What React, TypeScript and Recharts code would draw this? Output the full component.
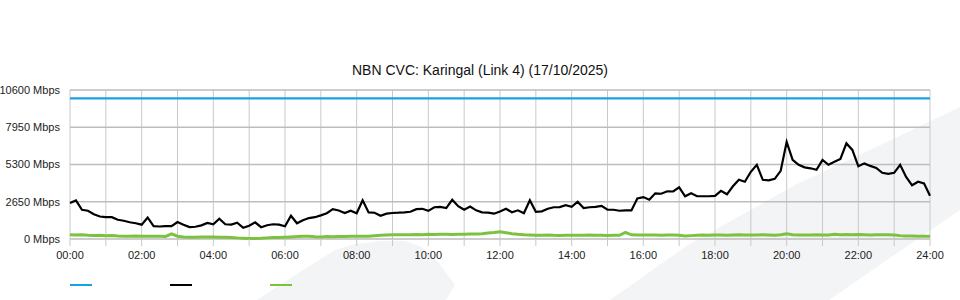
import React from 'react';
import { LineChart, Line, XAxis, YAxis, CartesianGrid, Legend } from 'recharts';

// 10-minute samples, 00:00 .. 24:00 (145 points)
const DOWNLOAD_MBPS: number[] = [
  2560, 2740, 2080, 2010, 1760, 1600, // 00
  1560, 1550, 1370, 1300, 1190, 1120, // 01
  1020, 1530, 910, 890, 910, 910, // 02
  1210, 1020, 850, 870, 970, 1140, // 03
  1050, 1440, 1050, 1020, 1160, 800, // 04
  940, 1180, 840, 980, 1050, 1020, // 05
  910, 1650, 1120, 1330, 1490, 1550, // 06
  1680, 1830, 2120, 2030, 1850, 2010, // 07
  1830, 2750, 1890, 1870, 1650, 1800, // 08
  1850, 1870, 1900, 1940, 2120, 2150, // 09
  2000, 2260, 2290, 2200, 2790, 2330, // 10
  2080, 2310, 2040, 1900, 1870, 1800, // 11
  1960, 2150, 1900, 2040, 1830, 2750, // 12
  1940, 1970, 2150, 2260, 2270, 2400, // 13
  2290, 2650, 2200, 2260, 2290, 2360, // 14
  2080, 2080, 2010, 2030, 2030, 2880, // 15
  2980, 2790, 3250, 3220, 3390, 3380, // 16
  3680, 3040, 3250, 3040, 3040, 3040, // 17
  3070, 3430, 3180, 3750, 4210, 4070, // 18
  4780, 5280, 4210, 4170, 4280, 4850, // 19
  6910, 5630, 5280, 5100, 5030, 4920, // 20
  5630, 5280, 5490, 5700, 6800, 6340, // 21
  5170, 5380, 5200, 5060, 4710, 4640, // 22
  4710, 5280, 4420, 3820, 4070, 3960, // 23
  3070, // 24
];

const UPLOAD_MBPS: number[] = [
  300, 280, 300, 270, 250, 260,
  230, 250, 220, 200, 200, 210,
  200, 200, 190, 200, 180, 360,
  200, 140, 120, 130, 140, 140,
  140, 130, 120, 110, 80, 60,
  40, 30, 50, 80, 100, 110,
  130, 150, 170, 200, 190, 160,
  150, 170, 160, 180, 170, 190,
  200, 190, 200, 230, 260, 280,
  300, 310, 300, 310, 320, 300,
  330, 320, 340, 330, 320, 340,
  330, 350, 360, 380, 420, 460,
  520, 450, 380, 330, 300, 290,
  270, 260, 280, 260, 250, 260,
  270, 260, 260, 280, 270, 260,
  250, 270, 260, 470, 300, 290,
  280, 290, 280, 270, 280, 290,
  270, 220, 240, 260, 280, 270,
  290, 280, 270, 290, 300, 280,
  290, 280, 300, 290, 270, 300,
  380, 300, 290, 280, 290, 300,
  290, 280, 330, 310, 320, 300,
  320, 310, 290, 300, 310, 300,
  290, 240, 210, 220, 200, 190,
  190,
];

const CAPACITY_MBPS = 10000;
const SLOTS_PER_HOUR = 6;
const HOUR_LABELS = ['00:00', '02:00', '04:00', '06:00', '08:00', '10:00', '12:00', '14:00', '16:00', '18:00', '20:00', '22:00', '24:00'];
const Y_TICKS = [0, 2650, 5300, 7950, 10600];
const TITLE = 'NBN CVC: Karingal (Link 4) (17/10/2025)';

const SERIES = [
  { key: 'capacity', color: '#1ba0e2', width: 2.2 },
  { key: 'download', color: '#000000', width: 2.2 },
  { key: 'upload', color: '#7cc23f', width: 3 },
];

const data = DOWNLOAD_MBPS.map((d, i) => ({
  slot: i,
  capacity: CAPACITY_MBPS,
  download: d,
  upload: UPLOAD_MBPS[i],
}));

const HOUR_TICKS = Array.from({ length: 25 }, (_, h) => h * SLOTS_PER_HOUR);

const FONT = '"Liberation Sans", Arial, sans-serif';

const LegendContent = () => (
  <div style={{ position: 'relative', width: 300, height: 20 }}>
    {SERIES.map((s, i) => (
      <span
        key={s.key}
        style={{
          position: 'absolute',
          left: i * 100,
          top: 15,
          width: 22,
          height: 2,
          background: s.color,
        }}
      />
    ))}
  </div>
);

const YTick = (props: any) => {
  const { x, y, payload } = props;
  return (
    <text x={x} y={y} dy="0.355em" textAnchor="end" fontSize={11} fill="#222" fontFamily={FONT}>
      {`${payload.value} Mbps`}
    </text>
  );
};

const XTick = (props: any) => {
  const { x, y, payload } = props;
  const v = payload.value as number;
  if (v % (SLOTS_PER_HOUR * 2) !== 0) return <g />;
  return (
    <text x={x} y={y} dy="0.71em" textAnchor="middle" fontSize={11} fill="#222" fontFamily={FONT}>
      {HOUR_LABELS[v / (SLOTS_PER_HOUR * 2)]}
    </text>
  );
};

export default function App() {
  return (
    <div style={{ position: 'absolute', left: 0, top: 0, width: 960, height: 300, background: '#fff', fontFamily: FONT }}>
      <svg width={960} height={300} style={{ position: 'absolute', left: 0, top: 0 }}>
        <polygon points="257,300 300,272 335,250 355,244 380,241 405,241 422,247 438,262 455,285 446,300" fill="#f3f4f6" />
        <polygon points="610,300 688,245 795,185 870,150 960,107 960,210 887,260 829,300" fill="#f3f4f6" />
      </svg>
      <div
        style={{
          position: 'absolute',
          left: 0,
          top: 62,
          width: 960,
          textAlign: 'center',
          fontSize: 14,
          lineHeight: '16px',
          color: '#111',
        }}
      >
        {TITLE}
      </div>
      <div style={{ position: 'absolute', left: 0, top: 0 }}>
        <LineChart width={960} height={300} data={data} margin={{ top: 90, right: 30, bottom: 11, left: 0 }}>
          <CartesianGrid stroke="#c9c9c9" strokeWidth={1} horizontal={false} />
          <CartesianGrid stroke="#bdbdbd" strokeWidth={1.6} vertical={false} />
          <XAxis
            dataKey="slot"
            type="number"
            domain={[0, 144]}
            ticks={HOUR_TICKS}
            interval={0}
            height={30}
            axisLine={false}
            tickLine={{ stroke: '#c9c9c9' }}
            tickSize={7}
            tickMargin={5}
            tick={<XTick />}
          />
          <YAxis
            type="number"
            domain={[0, 10600]}
            ticks={Y_TICKS}
            interval={0}
            width={70}
            axisLine={false}
            tickLine={false}
            tickSize={6}
            tickMargin={4}
            tick={<YTick />}
          />
          <Legend verticalAlign="bottom" align="left" height={20} wrapperStyle={{ left: 70 }} content={<LegendContent />} />
          {SERIES.map((s) => (
            <Line
              key={s.key}
              type="linear"
              dataKey={s.key}
              stroke={s.color}
              strokeWidth={s.width}
              dot={false}
              activeDot={false}
              isAnimationActive={false}
            />
          ))}
        </LineChart>
      </div>
    </div>
  );
}
